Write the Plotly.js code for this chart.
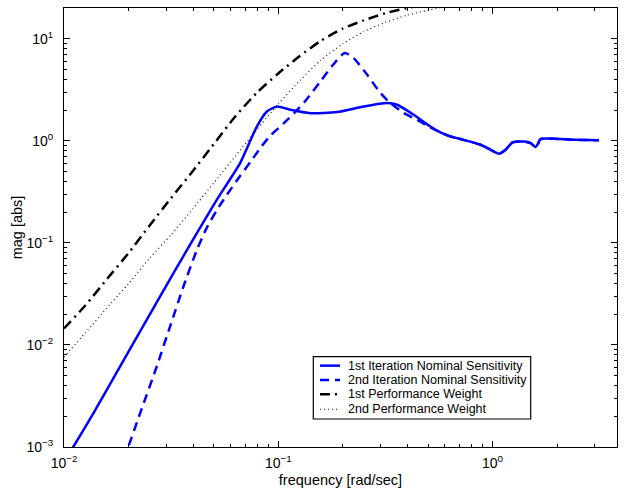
<!DOCTYPE html>
<html>
<head>
<meta charset="utf-8">
<script src="https://cdn.plot.ly/plotly-3.0.1.min.js"></script>
<style>html,body{margin:0;padding:0;background:#fff;}#chart{width:624px;height:494px;}</style>
</head>
<body>
<div id="chart"></div>
<script>
// ---- data ----
const seriesNames = [
  "1st Iteration Nominal Sensitivity",
  "2nd Iteration Nominal Sensitivity",
  "1st Performance Weight",
  "2nd Performance Weight"
];

// performance weights share one frequency grid [rad/sec]
const freqWeight = [0.01, 0.0126, 0.0158, 0.02, 0.0251, 0.0316, 0.0398, 0.0501, 0.0631, 0.0794,
                    0.1, 0.126, 0.158, 0.2, 0.251, 0.316, 0.398, 0.501, 0.631, 1.0, 2.0, 3.16];
const weight1 = [0.0145, 0.0245, 0.0437, 0.0794, 0.148, 0.275, 0.501, 0.933, 1.738, 2.951,
                 4.571, 6.761, 9.55, 12.59, 15.14, 17.78, 19.95, 21.88, 23.44, 25.12, 26.3, 26.9];
const weight2 = [0.00759, 0.01318, 0.02291, 0.0398, 0.0708, 0.1202, 0.2138, 0.389, 0.708, 1.288,
                 2.291, 3.89, 6.166, 8.913, 11.75, 14.45, 16.98, 19.05, 20.89, 23.44, 25.12, 25.7];

// 1st iteration nominal sensitivity
const freqS1 = [0.01, 0.01104, 0.01371, 0.01828, 0.02432, 0.03243, 0.04169, 0.05164, 0.06637, 0.07943,
                0.08851, 0.09863, 0.1138, 0.1413, 0.1879, 0.2506, 0.3221, 0.3589, 0.4285, 0.5129,
                0.5715, 0.6368, 0.7079, 0.879, 0.9795, 1.0715, 1.1508, 1.2359, 1.3996, 1.5066,
                1.5885, 1.6293, 1.6749, 2.3988, 3.1405];
const sens1  = [0.000708, 0.001, 0.002138, 0.006166, 0.01758, 0.05047, 0.1245, 0.2642, 0.6039, 1.380,
                1.936, 2.168, 2.014, 1.866, 1.910, 2.168, 2.344, 2.254, 1.799, 1.380,
                1.208, 1.102, 1.040, 0.9141, 0.8166, 0.7464, 0.8166, 0.9616, 0.9840, 0.9484,
                0.8670, 0.933, 1.040, 1.023, 1.012];

// 2nd iteration nominal sensitivity
const freqS2 = [0.01905, 0.01995, 0.02265, 0.0271, 0.03126, 0.03606, 0.04169, 0.04645, 0.05164, 0.05754,
                0.06607, 0.07396, 0.08318, 0.09183, 0.1059, 0.1199, 0.1337, 0.157, 0.1811, 0.2042,
                0.2249, 0.26, 0.2999, 0.3334, 0.3855, 0.4446, 0.5129, 0.5715, 0.6368, 0.7079,
                0.879, 0.9795, 1.0715, 1.1508, 1.2359, 1.3996, 1.5066, 1.5885, 1.6293, 1.6749,
                2.3988, 3.1405];
const sens2  = [0.000759, 0.001, 0.002138, 0.006166, 0.01514, 0.03715, 0.08511, 0.1413, 0.2089, 0.2951,
                0.4467, 0.6166, 0.871, 1.122, 1.479, 1.905, 2.455, 3.802, 5.623, 7.244,
                6.457, 4.436, 2.938, 2.344, 1.866, 1.607, 1.349, 1.208, 1.102, 1.040,
                0.9141, 0.8166, 0.7464, 0.8166, 0.9616, 0.9840, 0.9484, 0.8670, 0.933, 1.040,
                1.023, 1.012];

// axis ticks
const xTickVals = [0.01, 0.1, 1];
const xTickText = ["10<sup>\u22122</sup>", "10<sup>\u22121</sup>", "10<sup>0</sup>"];
const yTickVals = [0.001, 0.01, 0.1, 1, 10];
const yTickText = ["10<sup>\u22123</sup>", "10<sup>\u22122</sup>", "10<sup>\u22121</sup>", "10<sup>0</sup>", "10<sup>1</sup>"];
const xRange = [0.01, 3.81];
const yRange = [0.001, 20];

// ---- styles ----
const FONT = "Liberation Sans, Arial, Helvetica, sans-serif";
const styles = [
  {color: "#0000ff", width: 2.5, dash: "solid"},
  {color: "#0000ff", width: 2.5, dash: "9px,6px"},
  {color: "#000000", width: 2.5, dash: "10px,5px,2px,5px"},
  {color: "#1a1a1a", width: 1.2, dash: "1px,3px"}
];

const xs = [freqS1, freqS2, freqWeight, freqWeight];
const ys = [sens1, sens2, weight1, weight2];

const traces = xs.map((x, i) => ({
  type: "scatter", mode: "lines", name: seriesNames[i],
  x: x, y: ys[i],
  line: Object.assign({shape: "spline", smoothing: 0.6}, styles[i]),
  showlegend: false, hoverinfo: "x+y+name"
}));

function minorVals(lo, hi) {
  const out = [];
  for (let d = lo; d < hi; d *= 10) for (let k = 2; k <= 9; k++) out.push(+(k * d).toPrecision(3));
  return out;
}

// ---- custom MATLAB-style legend (paper coordinates) ----
const L = 64, R = 617, T = 8.3, B = 447;
const px = v => (v - L) / (R - L);
const py = v => (B - v) / (B - T);
const legendBox = {x0: 313.3, x1: 530.7, y0: 356.7, y1: 419};
const legendRows = [365.7, 380, 394.3, 409.3];
const shapes = [{
  type: "rect", xref: "paper", yref: "paper",
  x0: px(legendBox.x0), x1: px(legendBox.x1), y0: py(legendBox.y1), y1: py(legendBox.y0),
  line: {color: "#000", width: 1.2}, fillcolor: "#fff", layer: "above"
}];
const annotations = [];
legendRows.forEach((ry, i) => {
  shapes.push({
    type: "line", xref: "paper", yref: "paper", layer: "above",
    x0: px(320), x1: px(340), y0: py(ry), y1: py(ry),
    line: {color: styles[i].color, width: styles[i].width, dash: styles[i].dash}
  });
  annotations.push({
    xref: "paper", yref: "paper", x: px(346), y: py(ry),
    xanchor: "left", yanchor: "middle", showarrow: false,
    text: seriesNames[i], font: {family: FONT, size: 12.5, color: "#000"}
  });
});

const axisCommon = {
  type: "log", showgrid: false, zeroline: false,
  showline: true, linecolor: "#000", linewidth: 1, mirror: "ticks",
  ticks: "inside", ticklen: 6, tickwidth: 1, tickcolor: "#000",
  tickfont: {family: FONT, size: 14, color: "#000"}
};

const layout = {
  width: 624, height: 494,
  margin: {l: L, r: 624 - R, t: T, b: 494 - B},
  paper_bgcolor: "#fff", plot_bgcolor: "#fff",
  font: {family: FONT, color: "#000"},
  showlegend: false,
  xaxis: Object.assign({}, axisCommon, {
    range: [Math.log10(xRange[0]), Math.log10(xRange[1])],
    tickmode: "array", tickvals: xTickVals, ticktext: xTickText,
    ticklabelstandoff: 3,
    minor: {tickmode: "array", tickvals: minorVals(0.01, 3), ticks: "inside", ticklen: 3, tickcolor: "#000", showgrid: false},
    title: {text: "frequency [rad/sec]", font: {family: FONT, size: 14.5, color: "#000"}, standoff: 5},
    automargin: false
  }),
  yaxis: Object.assign({}, axisCommon, {
    range: [Math.log10(yRange[0]), Math.log10(yRange[1])],
    tickmode: "array", tickvals: yTickVals, ticktext: yTickText,
    ticklabelstandoff: 7,
    minor: {tickmode: "array", tickvals: minorVals(0.001, 20).concat([20]), ticks: "inside", ticklen: 3, tickcolor: "#000", showgrid: false},
    title: {text: "mag [abs]", font: {family: FONT, size: 14.5, color: "#000"}, standoff: 0},
    automargin: false
  }),
  shapes: shapes,
  annotations: annotations
};

Plotly.newPlot("chart", traces, layout, {displayModeBar: false, staticPlot: true});
</script>
</body>
</html>
